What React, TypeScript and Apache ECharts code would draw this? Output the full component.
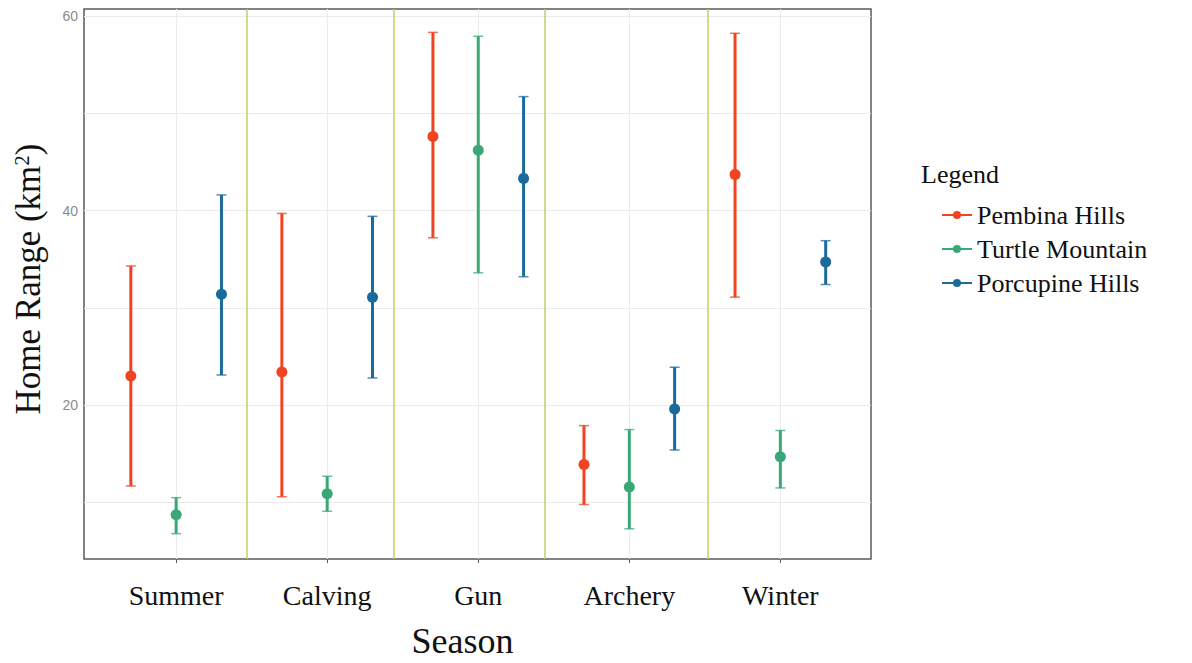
import React, { useEffect, useRef } from "react";
import * as echarts from "echarts";

const seasons = ["Summer", "Calving", "Gun", "Archery", "Winter"];
const seriesNames = ["Pembina Hills", "Turtle Mountain", "Porcupine Hills"];
const seriesColors = ["#ee4422", "#3aa876", "#1a6b9c"];
const seriesOffsets = [-0.3, 0, 0.3];

const pembinaMean = [23.0, 23.4, 47.6, 13.9, 43.7];
const pembinaLow = [11.7, 10.6, 37.2, 9.8, 31.1];
const pembinaHigh = [34.3, 39.7, 58.3, 17.9, 58.2];

const turtleMean = [8.75, 10.9, 46.2, 11.6, 14.7];
const turtleLow = [6.8, 9.1, 33.6, 7.3, 11.5];
const turtleHigh = [10.5, 12.7, 57.9, 17.5, 17.4];

const porcupineMean = [31.4, 31.1, 43.3, 19.6, 34.7];
const porcupineLow = [23.1, 22.8, 33.2, 15.4, 32.4];
const porcupineHigh = [41.6, 39.4, 51.7, 23.9, 36.9];

const yTicks = [20, 40, 60];
const yGrid = [10, 20, 30, 40, 50, 60];
const xTicks = [0, 1, 2, 3, 4];
const separators = [0.47, 1.437, 2.437, 3.523];

const means = [pembinaMean, turtleMean, porcupineMean];
const lows = [pembinaLow, turtleLow, porcupineLow];
const highs = [pembinaHigh, turtleHigh, porcupineHigh];

const legendIcon =
  "path://M0,3.6h30v1.8h-30z M19,4.5a4,4 0 1,1 -8,0a4,4 0 1,1 8,0z";

export default function App() {
  const ref = useRef<HTMLDivElement>(null);
  useEffect(() => {
    if (!ref.current) return;
    const chart = echarts.init(ref.current, null, { renderer: "svg" });

    const errorSeries = seriesNames.map((name, si) => ({
      name,
      type: "custom",
      z: 5,
      itemStyle: { color: seriesColors[si] },
      data: seasons.map((_, i) => [
        i + seriesOffsets[si],
        lows[si][i],
        means[si][i],
        highs[si][i],
      ]),
      encode: { x: 0, y: [1, 2, 3] },
      renderItem: (params: any, api: any) => {
        const x = api.value(0);
        const lo = api.coord([x, api.value(1)]);
        const mid = api.coord([x, api.value(2)]);
        const hi = api.coord([x, api.value(3)]);
        const color = seriesColors[si];
        const capW = 5;
        return {
          type: "group",
          children: [
            {
              type: "line",
              shape: { x1: hi[0], y1: hi[1], x2: lo[0], y2: lo[1] },
              style: { stroke: color, lineWidth: 3 },
            },
            {
              type: "line",
              shape: { x1: hi[0] - capW, y1: hi[1], x2: hi[0] + capW, y2: hi[1] },
              style: { stroke: color, lineWidth: 1.5, opacity: 0.75 },
            },
            {
              type: "line",
              shape: { x1: lo[0] - capW, y1: lo[1], x2: lo[0] + capW, y2: lo[1] },
              style: { stroke: color, lineWidth: 1.5, opacity: 0.75 },
            },
            {
              type: "circle",
              shape: { cx: mid[0], cy: mid[1], r: 5.5 },
              style: { fill: color },
            },
          ],
        };
      },
    }));

    const option: any = {
      animation: false,
      backgroundColor: "#ffffff",
      grid: {
        left: 84,
        top: 9,
        width: 787,
        height: 550,
        show: true,
        outerBoundsMode: "none",
        containLabel: false,
        borderColor: "#5a5a5a",
        borderWidth: 1.5,
        backgroundColor: "#ffffff",
      },
      xAxis: {
        type: "value",
        min: -0.61,
        max: 4.6,
        name: "Season",
        nameLocation: "middle",
        nameGap: 64,
        nameTextStyle: {
          fontFamily: "Liberation Serif",
          fontSize: 36,
          lineHeight: 36,
          color: "#111111",
          padding: [0, 30, 0, 0],
        },
        axisLine: { show: false },
        axisTick: {
          show: true,
          customValues: xTicks,
          length: 4,
          lineStyle: { color: "#5a5a5a", width: 1 },
        },
        axisLabel: {
          customValues: xTicks,
          formatter: (v: number) => seasons[Math.round(v)] ?? "",
          fontFamily: "Liberation Serif",
          fontSize: 28,
          color: "#111111",
          margin: 22,
        },
        splitLine: { show: false },
      },
      yAxis: {
        type: "value",
        min: 4.2,
        max: 60.7,
        name: "{a|Home Range (km}{b|2}{a|)}",
        nameLocation: "middle",
        nameGap: 38,
        nameRotate: 90,
        nameTextStyle: {
          padding: [0, 0, 0, 10],
          rich: {
            a: {
              fontFamily: "Liberation Serif",
              fontSize: 35,
              color: "#111111",
            },
            b: {
              fontFamily: "Liberation Serif",
              fontSize: 21,
              color: "#111111",
              verticalAlign: "top",
              padding: [0, 0, 14, 0],
            },
          },
        },
        axisLine: { show: false },
        axisTick: {
          show: true,
          customValues: yTicks,
          length: 4,
          lineStyle: { color: "#5a5a5a", width: 1 },
        },
        axisLabel: {
          customValues: yTicks,
          fontFamily: "Liberation Sans",
          fontSize: 14,
          color: "#8a8a8a",
          margin: 6,
        },
        splitLine: { show: false },
      },
      legend: {
        orient: "vertical",
        left: 937,
        top: 197,
        itemWidth: 30,
        itemHeight: 9,
        itemGap: 8,
        textStyle: {
          fontFamily: "Liberation Serif",
          fontSize: 26,
          color: "#111111",
        },
        data: seriesNames.map((n, i) => ({
          name: n,
          icon: legendIcon,
          itemStyle: { color: seriesColors[i] },
        })),
      },
      graphic: [
        {
          type: "text",
          left: 921,
          top: 161,
          style: {
            text: "Legend",
            fontFamily: "Liberation Serif",
            fontSize: 26,
            fill: "#111111",
          },
        },
      ],
      series: [
        {
          name: "grid",
          type: "scatter",
          data: [],
          z: 1,
          silent: true,
          markLine: {
            silent: true,
            symbol: "none",
            label: { show: false },
            lineStyle: { color: "#ebebeb", width: 1, type: "solid" },
            data: [
              ...yGrid.map((v) => ({ yAxis: v })),
              ...xTicks.map((v) => ({ xAxis: v })),
            ],
          },
        },
        {
          name: "separators",
          type: "scatter",
          data: [],
          z: 2,
          silent: true,
          markLine: {
            silent: true,
            symbol: "none",
            label: { show: false },
            lineStyle: { color: "#b9d36a", width: 1.5, type: "solid" },
            data: separators.map((v) => ({ xAxis: v })),
          },
        },
        ...errorSeries,
      ],
    };
    chart.setOption(option);
    return () => chart.dispose();
  }, []);
  return (
    <div
      ref={ref}
      style={{ position: "fixed", left: 0, top: 0, width: 1192, height: 663 }}
    />
  );
}
